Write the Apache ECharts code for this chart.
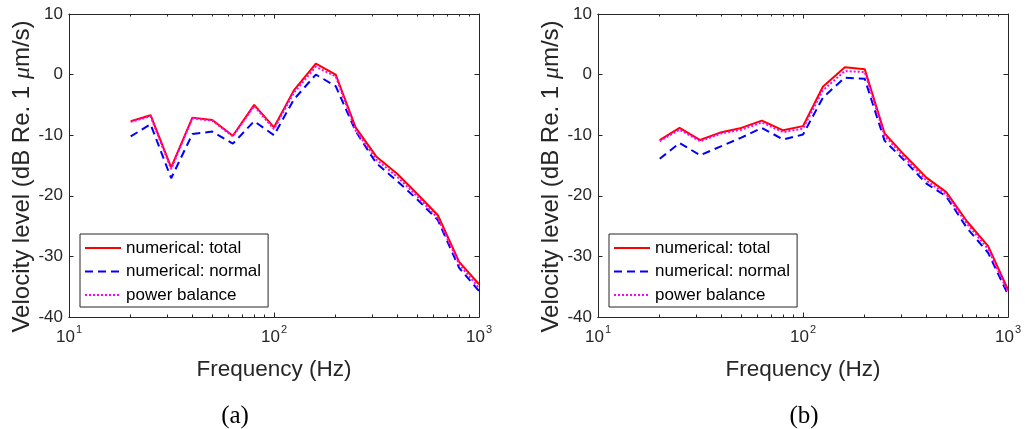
<!DOCTYPE html>
<html>
<head>
<meta charset="utf-8">
<script src="https://cdn.jsdelivr.net/npm/echarts@6/dist/echarts.min.js"></script>
<style>html,body{margin:0;padding:0;background:#fff}#c{width:1025px;height:429px}</style>
</head>
<body>
<div id="c"></div>
<script>
// Frequencies (Hz), 1/3-octave band centres
const freqs = [20, 25, 31.5, 40, 50, 63, 80, 100, 125, 160, 200, 250, 315, 400, 500, 630, 800, 1000];

// Panel (a)
const aTotal  = [-7.7, -6.7, -15.3, -7.1, -7.5, -10.1, -5.0, -8.7, -2.6, 1.8, 0.0, -8.7, -13.5, -16.4, -19.7, -23.2, -30.9, -34.6];
const aNormal = [-10.2, -8.2, -17.1, -9.8, -9.4, -11.4, -7.7, -10.0, -4.1, 0.0, -1.9, -9.3, -14.6, -17.6, -20.6, -24.0, -31.9, -35.7];
const aPower  = [-7.8, -6.9, -15.6, -7.2, -7.6, -10.2, -5.2, -9.0, -3.0, 1.3, -0.3, -9.2, -14.0, -16.9, -20.1, -23.7, -31.3, -35.2];

// Panel (b)
const bTotal  = [-10.8, -8.8, -10.8, -9.5, -8.8, -7.6, -9.2, -8.5, -2.0, 1.2, 0.9, -9.7, -13.4, -17.0, -19.4, -24.2, -28.3, -35.5];
const bNormal = [-13.9, -11.3, -13.3, -11.8, -10.4, -8.8, -10.7, -9.9, -3.8, -0.5, -0.7, -10.9, -14.3, -18.0, -20.1, -25.3, -29.4, -36.3];
const bPower  = [-11.0, -9.1, -11.0, -9.7, -9.1, -7.9, -9.5, -8.9, -2.6, 0.6, 0.4, -10.1, -13.8, -17.5, -19.8, -24.6, -28.8, -35.9];

// Axis ticks
const xMajorTicks = [10, 100, 1000];
const xMinorTicks = [20, 30, 40, 50, 60, 70, 80, 90, 200, 300, 400, 500, 600, 700, 800, 900];
const seriesNames = ['numerical: total', 'numerical: normal', 'power balance'];
const panelLabels = ['(a)', '(b)'];
const yName = 'Velocity level (dB Re. 1 {mu|\u03bc}m/s)';
const xName = 'Frequency (Hz)';

const AX = '#262626';
const FONT = 'Liberation Sans, Arial, sans-serif';
const SERIF = 'Liberation Serif, Times New Roman, serif';

function pairs(vals) { return freqs.map((f, i) => [f, vals[i]]); }

const grids = [
  { left: 69, top: 14, width: 410, height: 303 },
  { left: 598, top: 14, width: 410, height: 303 }
];

const xAxes = [], yAxes = [], series = [], legends = [];
const panels = [[aTotal, aNormal, aPower], [bTotal, bNormal, bPower]];
const legendPos = [{ left: 80, top: 234 }, { left: 609, top: 234 }];

function xAxis(g, pos, ticks, len, withLabel) {
  const ax = {
    type: 'log', logBase: 10, min: 10, max: 1000, gridIndex: g, position: pos,
    axisLine: { show: true, onZero: false, lineStyle: { color: AX, width: 1 } },
    axisTick: { show: true, inside: true, length: len, customValues: ticks, lineStyle: { color: AX, width: 1 } },
    axisLabel: { show: false },
    splitLine: { show: false },
    minorTick: { show: false }, minorSplitLine: { show: false }
  };
  if (withLabel) {
    ax.axisLabel = {
      show: true, customValues: xMajorTicks, margin: 7, color: AX, fontFamily: FONT,
      formatter: v => '{b|10}{s|' + Math.round(Math.log10(v)) + '}',
      rich: {
        b: { fontSize: 17, fontFamily: FONT, color: AX, lineHeight: 22, verticalAlign: 'bottom' },
        s: { fontSize: 11, fontFamily: FONT, color: AX, lineHeight: 12, verticalAlign: 'top', padding: [0, 0, 0, 1] }
      }
    };
    ax.name = xName;
    ax.nameLocation = 'middle';
    ax.nameGap = 41;
    ax.nameTextStyle = { fontSize: 22.5, fontFamily: FONT, color: AX };
  }
  return ax;
}

for (let g = 0; g < 2; g++) {
  const xBase = xAxes.length;
  xAxes.push(xAxis(g, 'bottom', xMajorTicks, 4.5, true));
  xAxes.push(xAxis(g, 'bottom', xMinorTicks, 2.5, false));
  xAxes.push(xAxis(g, 'top', xMajorTicks, 4.5, false));
  xAxes.push(xAxis(g, 'top', xMinorTicks, 2.5, false));

  const yBase = yAxes.length;
  yAxes.push({
    type: 'value', min: -40, max: 10, interval: 10, gridIndex: g, position: 'left',
    axisLine: { show: true, onZero: false, lineStyle: { color: AX, width: 1 } },
    axisTick: { show: true, inside: true, length: 4.5, lineStyle: { color: AX } },
    axisLabel: { show: true, margin: 6, fontSize: 17, fontFamily: FONT, color: AX },
    splitLine: { show: false },
    name: yName, nameLocation: 'middle', nameGap: 33,
    nameTextStyle: {
      fontSize: 24, fontFamily: FONT, color: AX, padding: [0, 22, 0, 0],
      rich: { mu: { fontSize: 24, fontFamily: SERIF, fontStyle: 'italic', color: AX } }
    }
  });
  yAxes.push({
    type: 'value', min: -40, max: 10, interval: 10, gridIndex: g, position: 'right',
    axisLine: { show: true, onZero: false, lineStyle: { color: AX, width: 1 } },
    axisTick: { show: true, inside: true, length: 4.5, lineStyle: { color: AX } },
    axisLabel: { show: false }, splitLine: { show: false }
  });

  const [tot, nor, pow] = panels[g];
  const styles = [
    { color: '#ff0000', width: 2, type: 'solid' },
    { color: '#0000ff', width: 2, type: [8, 5] },
    { color: '#ff00ff', width: 2, type: [2, 2] }
  ];
  [tot, nor, pow].forEach((vals, k) => {
    series.push({
      type: 'line', name: seriesNames[k], xAxisIndex: xBase, yAxisIndex: yBase,
      data: pairs(vals), symbol: 'none', showSymbol: false, animation: false,
      lineStyle: styles[k], itemStyle: { color: styles[k].color }, z: 2 + k
    });
  });

  legends.push({
    left: legendPos[g].left, top: legendPos[g].top, orient: 'vertical',
    data: seriesNames, itemWidth: 36, itemHeight: 20, itemGap: 3.5,
    padding: [4, 7, 2, 4], backgroundColor: '#fff', borderColor: AX, borderWidth: 1,
    textStyle: { fontSize: 17, fontFamily: FONT, color: '#000', lineHeight: 20 },
    itemStyle: { opacity: 0, borderWidth: 0 },
    lineStyle: { width: 2 },
    selectedMode: false
  });
}

const chart = echarts.init(document.getElementById('c'), null, { renderer: 'canvas' });
chart.setOption({
  animation: false,
  backgroundColor: '#fff',
  grid: grids,
  xAxis: xAxes,
  yAxis: yAxes,
  legend: legends,
  series: series,
  graphic: [
    { type: 'text', x: 235, y: 416, style: { text: panelLabels[0], fontSize: 25, fontFamily: SERIF, fill: '#000', align: 'center', verticalAlign: 'middle' } },
    { type: 'text', x: 804, y: 416, style: { text: panelLabels[1], fontSize: 25, fontFamily: SERIF, fill: '#000', align: 'center', verticalAlign: 'middle' } }
  ]
});
</script>
</body>
</html>
